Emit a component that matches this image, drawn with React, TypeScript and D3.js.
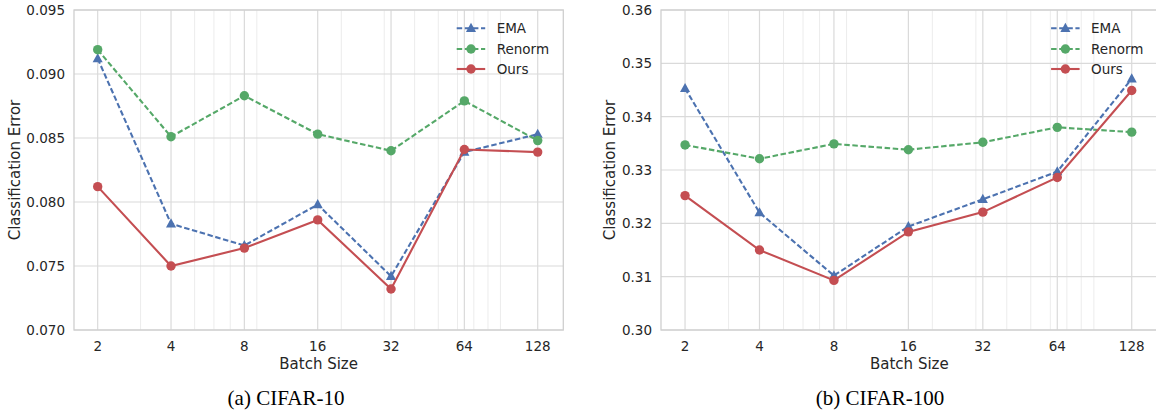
import React from "react";
import * as d3 from "d3";

const batchSizes = [2, 4, 8, 16, 32, 64, 128];
const minorTicks = [3, 5, 6, 7, 9, 20, 30, 40, 50, 60, 70, 80, 90];

const cifar10EMA = [0.0912, 0.0783, 0.0766, 0.0798, 0.0742, 0.0839, 0.0853];
const cifar10Renorm = [0.0919, 0.0851, 0.0883, 0.0853, 0.084, 0.0879, 0.0848];
const cifar10Ours = [0.0812, 0.075, 0.0764, 0.0786, 0.0732, 0.0841, 0.0839];
const cifar10YTicks = [0.07, 0.075, 0.08, 0.085, 0.09, 0.095];

const cifar100EMA = [0.3453, 0.322, 0.3102, 0.3194, 0.3245, 0.3297, 0.3471];
const cifar100Renorm = [0.3347, 0.3321, 0.3349, 0.3338, 0.3352, 0.338, 0.3371];
const cifar100Ours = [0.3252, 0.315, 0.3093, 0.3184, 0.3221, 0.3286, 0.3449];
const cifar100YTicks = [0.3, 0.31, 0.32, 0.33, 0.34, 0.35, 0.36];

const seriesNames = ["EMA", "Renorm", "Ours"];
const colors = ["#4C72B0", "#55A868", "#C44E52"];

const FONT = "DejaVu Sans, sans-serif";
const TXT = "#262626";

type PanelProps = {
  x0: number;
  x1: number;
  yDomain: [number, number];
  yTicks: number[];
  tickFmt: (v: number) => string;
  data: number[][];
  ylabelX: number;
  caption: string;
  captionX: number;
};

function Triangle({ cx, cy, r, fill }: { cx: number; cy: number; r: number; fill: string }) {
  const h = r * 1.9;
  const w = r * 2.1;
  const p = `M${cx},${cy - h * 0.6} L${cx + w / 2},${cy + h * 0.4} L${cx - w / 2},${cy + h * 0.4} Z`;
  return <path d={p} fill={fill} />;
}

function Panel(props: PanelProps) {
  const top = 10;
  const bottom = 330;
  const lo = 2 / Math.pow(2, 0.323);
  const hi = 128 * Math.pow(2, 0.349);
  const x = d3.scaleLog().base(2).domain([lo, hi]).range([props.x0, props.x1]);
  const y = d3.scaleLinear().domain(props.yDomain).range([bottom, top]);
  const line = d3
    .line<number>()
    .x((_, i) => x(batchSizes[i]))
    .y((d) => y(d));
  const dashes = ["5.5,2.6", "5.5,2.6", null];
  const legendX = props.x1 - 106.6;
  const legendRows = [28.3, 49, 69];
  return (
    <g>
      {minorTicks.map((t) => (
        <line key={"m" + t} x1={x(t)} x2={x(t)} y1={top} y2={bottom} stroke="#ececec" strokeWidth={1} />
      ))}
      {batchSizes.map((t) => (
        <line key={"M" + t} x1={x(t)} x2={x(t)} y1={top} y2={bottom} stroke="#dadada" strokeWidth={1.2} />
      ))}
      {props.yTicks.map((t) => (
        <line key={"y" + t} x1={props.x0} x2={props.x1} y1={y(t)} y2={y(t)} stroke="#dadada" strokeWidth={1.2} />
      ))}
      <rect x={props.x0} y={top} width={props.x1 - props.x0} height={bottom - top} fill="none" stroke="#cfcfcf" strokeWidth={1.3} />
      {props.yTicks.map((t) => (
        <text key={"yl" + t} x={props.x0 - 9} y={y(t) + 5} textAnchor="end" fontSize={13.5} fontFamily={FONT} fill={TXT}>
          {props.tickFmt(t)}
        </text>
      ))}
      {batchSizes.map((t) => (
        <text key={"xl" + t} x={x(t)} y={350.5} textAnchor="middle" fontSize={13.5} fontFamily={FONT} fill={TXT}>
          {t}
        </text>
      ))}
      <text x={(props.x0 + props.x1) / 2} y={369} textAnchor="middle" fontSize={15} fontFamily={FONT} fill={TXT}>
        Batch Size
      </text>
      <text
        transform={`translate(${props.ylabelX},${(top + bottom) / 2}) rotate(-90)`}
        textAnchor="middle"
        dominantBaseline="middle"
        fontSize={15}
        fontFamily={FONT}
        fill={TXT}
      >
        Classification Error
      </text>
      <text x={props.captionX} y={405} textAnchor="middle" fontSize={21} fontFamily="Liberation Serif, Times New Roman, serif" fill="#000">
        {props.caption}
      </text>
      {props.data.map((vals, si) => (
        <g key={"s" + si}>
          <path
            d={line(vals) || ""}
            fill="none"
            stroke={colors[si]}
            strokeWidth={2.1}
            strokeDasharray={dashes[si] || undefined}
          />
          {vals.map((v, i) =>
            si === 0 ? (
              <Triangle key={i} cx={x(batchSizes[i])} cy={y(v)} r={4.8} fill={colors[si]} />
            ) : (
              <circle key={i} cx={x(batchSizes[i])} cy={y(v)} r={4.7} fill={colors[si]} />
            )
          )}
        </g>
      ))}
      {seriesNames.map((name, si) => (
        <g key={"lg" + si}>
          <line
            x1={legendX}
            x2={legendX + 28.5}
            y1={legendRows[si]}
            y2={legendRows[si]}
            stroke={colors[si]}
            strokeWidth={2.1}
            strokeDasharray={dashes[si] ? "5.5,2.6" : undefined}
          />
          {si === 0 ? (
            <Triangle cx={legendX + 14.3} cy={legendRows[si]} r={4.8} fill={colors[si]} />
          ) : (
            <circle cx={legendX + 14.3} cy={legendRows[si]} r={4.7} fill={colors[si]} />
          )}
          <text x={legendX + 40} y={legendRows[si] + 5} fontSize={13.5} fontFamily={FONT} fill={TXT}>
            {name}
          </text>
        </g>
      ))}
    </g>
  );
}

export default function App() {
  return (
    <svg width={1156} height={415} style={{ position: "absolute", left: 0, top: 0, background: "#fff" }}>
      <rect x={0} y={0} width={1156} height={415} fill="#fff" />
      <Panel
        x0={74}
        x1={563.3}
        yDomain={[0.07, 0.095]}
        yTicks={cifar10YTicks}
        tickFmt={d3.format(".3f")}
        data={[cifar10EMA, cifar10Renorm, cifar10Ours]}
        ylabelX={15}
        caption="(a) CIFAR-10"
        captionX={286}
      />
      <Panel
        x0={661}
        x1={1157.7}
        yDomain={[0.3, 0.36]}
        yTicks={cifar100YTicks}
        tickFmt={d3.format(".2f")}
        data={[cifar100EMA, cifar100Renorm, cifar100Ours]}
        ylabelX={610}
        caption="(b) CIFAR-100"
        captionX={880}
      />
    </svg>
  );
}
